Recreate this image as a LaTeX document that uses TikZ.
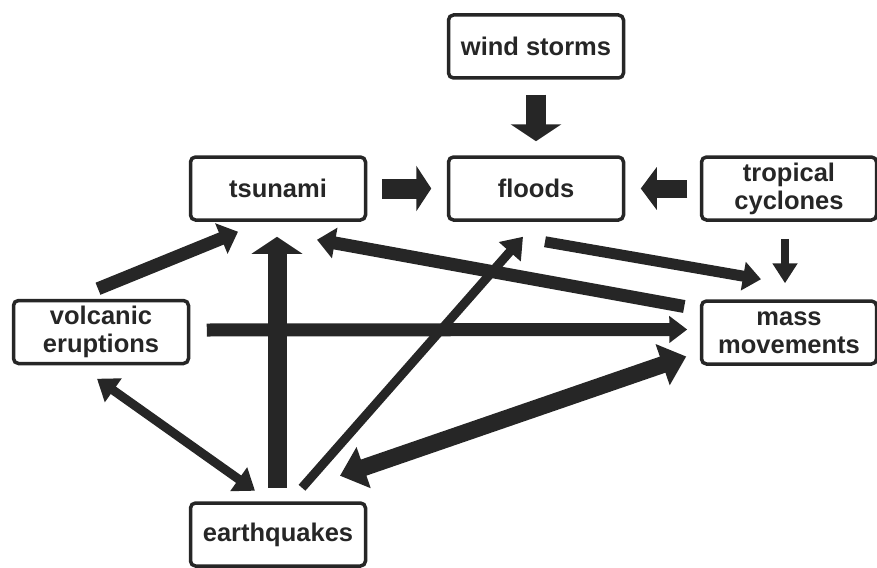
\documentclass[tikz,border=0pt]{standalone}
\usepackage{fontspec}
\setmainfont{Liberation Sans}
\usepackage{tikz}
\usetikzlibrary{
	arrows.meta,
	calc
}
\definecolor{ink}{HTML}{262626}

\begin{document}
\begin{tikzpicture}[x=1pt,y=-1pt,
		hazard/.style={draw=ink,line width=3.5pt,rounded corners=5pt,fill=white,
			minimum width=175pt,minimum height=63pt,align=center,text=ink,
			font=\fontsize{25.5}{28}\selectfont\bfseries},
		arr/.style n args={3}{draw=ink,line width=#1,-{Triangle[width=#2,length=#3]}},
		dbl/.style n args={3}{draw=ink,line width=#1,
			{Triangle[width=#2,length=#3]}-{Triangle[width=#2,length=#3]}}
	]
		\useasboundingbox (0,0) rectangle (877,567);
		\draw
			node[hazard] at (536,188.5)                        (floods)   {floods}
			node[hazard,node distance=258pt,left of=floods]    (tsunami)  {tsunami}
			node[hazard,node distance=253pt,right of=floods]   (tropical) {tropical\\cyclones}
			node[hazard,node distance=142pt,above of=floods]   (wind)     {wind storms}
			node[hazard,node distance=144pt,below of=tropical] (mass)     {mass\\movements}
			node[hazard,node distance=346pt,below of=tsunami]  (quakes)   {earthquakes}
			node[hazard] at (101,332)                          (volcanic) {volcanic\\eruptions}
		;
		\path
			($(wind.south)+(0,15)$)       edge[arr={20pt}{50pt}{17pt}] ($(floods.north)+(0,-14)$)
			($(tsunami.east)+(14.5,0)$)   edge[arr={20pt}{45pt}{15pt}] ($(floods.west)+(-15.5,0)$)
			($(tropical.west)+(-12.5,0)$) edge[arr={18pt}{42pt}{16pt}] ($(floods.east)+(15.5,0)$)
			($(tropical.south)+(-4,17)$)  edge[arr={8pt}{24pt}{20pt}]  ($(mass.north)+(-4,-16)$)
			($(floods.south)+(9,20)$)     edge[arr={11pt}{28pt}{18pt}] ($(mass.north)+(-28,-20)$)
			($(mass.west)+(-15.5,-26)$)   edge[arr={13pt}{30pt}{18pt}] ($(tsunami.south)+(39,18)$)
			($(volcanic.north)+(-3,-10)$) edge[arr={13pt}{32pt}{18pt}] ($(tsunami.south)+(-40,10)$)
			($(quakes.north)+(-1,-13.5)$) edge[arr={19pt}{50pt}{17pt}] ($(tsunami.south)+(-1,15)$)
			($(quakes.north)+(24,-13.5)$) edge[arr={9pt}{28pt}{20pt}]  ($(floods.south)+(-13,15)$)
			($(volcanic.east)+(16.5,-2)$) edge[arr={13pt}{26pt}{18pt}] ($(mass.west)+(-12.5,-3)$)
			($(volcanic.south)+(-4,13.5)$) edge[dbl={9pt}{28pt}{20pt}] ($(quakes.north)+(-23,-10.5)$)
			($(quakes.north)+(62,-25.5)$) edge[dbl={17pt}{42pt}{25pt}] ($(mass.west)+(-13.5,24)$)
		;
	\end{tikzpicture}
\end{document}
